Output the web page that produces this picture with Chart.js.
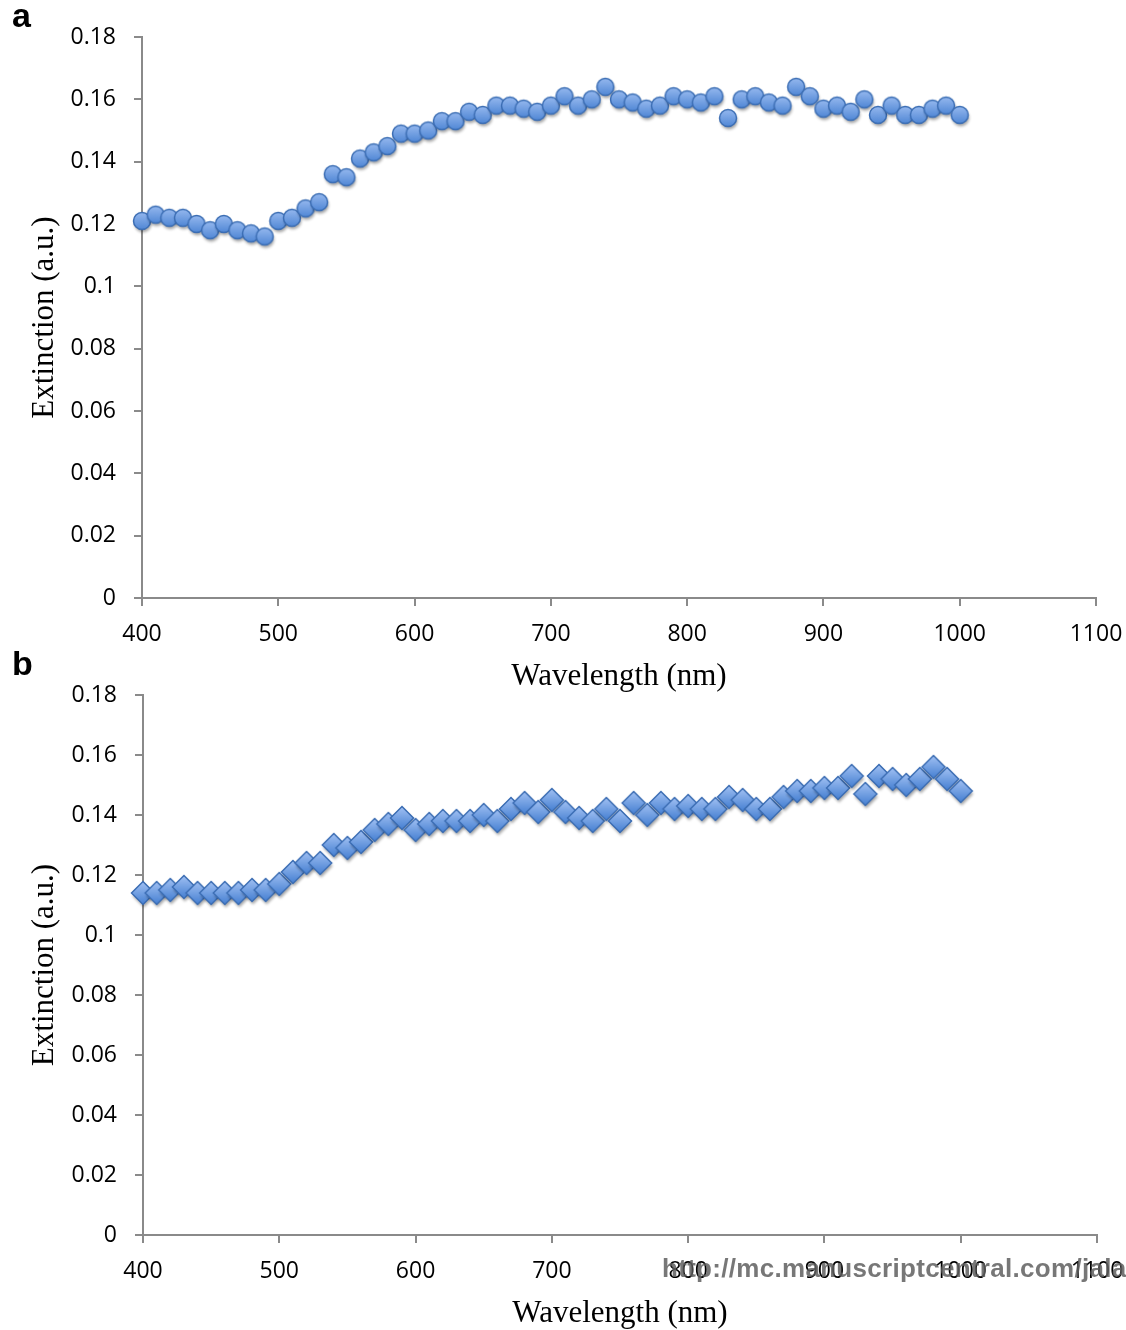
<!DOCTYPE html>
<html>
<head>
<meta charset="utf-8">
<script src="https://cdn.jsdelivr.net/npm/chart.js@4/dist/chart.umd.min.js"></script>
<style>
  body { margin: 0; background: #fff; }
  #page { position: relative; width: 1126px; height: 1330px; overflow: hidden; background: #fff; }
  .box { position: absolute; left: 0; width: 1126px; }
  .panel { position: absolute; font: bold 34px "Liberation Sans", Arial, sans-serif; line-height: 34px; color: #000; }
  #mark { position: absolute; left: 662px; top: 1255px; font: bold 26px "Liberation Sans", Arial, sans-serif;
          line-height: 26px; letter-spacing: 0.3px; color: rgba(95, 95, 95, 0.85); white-space: nowrap; }
</style>
</head>
<body>
<div id="page">
  <div class="box" style="top:0px;height:695px"><canvas id="chartA"></canvas></div>
  <div class="box" style="top:640px;height:692px"><canvas id="chartB"></canvas></div>
  <div class="panel" style="left:12px;top:-2px">a</div>
  <div class="panel" style="left:12px;top:646px">b</div>
  <div id="mark">http://mc.manuscriptcentral.com/jala</div>
</div>
<script>
// wavelengths (nm), same for both panels
var wavelength = [400, 410, 420, 430, 440, 450, 460, 470, 480, 490,
                  500, 510, 520, 530, 540, 550, 560, 570, 580, 590,
                  600, 610, 620, 630, 640, 650, 660, 670, 680, 690,
                  700, 710, 720, 730, 740, 750, 760, 770, 780, 790,
                  800, 810, 820, 830, 840, 850, 860, 870, 880, 890,
                  900, 910, 920, 930, 940, 950, 960, 970, 980, 990, 1000];

// panel a - extinction (a.u.)
var extinctionA = [0.121, 0.123, 0.122, 0.122, 0.120, 0.118, 0.120, 0.118, 0.117, 0.116,
                   0.121, 0.122, 0.125, 0.127, 0.136, 0.135, 0.141, 0.143, 0.145, 0.149,
                   0.149, 0.150, 0.153, 0.153, 0.156, 0.155, 0.158, 0.158, 0.157, 0.156,
                   0.158, 0.161, 0.158, 0.160, 0.164, 0.160, 0.159, 0.157, 0.158, 0.161,
                   0.160, 0.159, 0.161, 0.154, 0.160, 0.161, 0.159, 0.158, 0.164, 0.161,
                   0.157, 0.158, 0.156, 0.160, 0.155, 0.158, 0.155, 0.155, 0.157, 0.158, 0.155];

// panel b - extinction (a.u.)
var extinctionB = [0.114, 0.114, 0.115, 0.116, 0.114, 0.114, 0.114, 0.114, 0.115, 0.115,
                   0.117, 0.121, 0.124, 0.124, 0.130, 0.129, 0.131, 0.135, 0.137, 0.139,
                   0.135, 0.137, 0.138, 0.138, 0.138, 0.140, 0.138, 0.142, 0.144, 0.141,
                   0.145, 0.141, 0.139, 0.138, 0.142, 0.138, 0.144, 0.140, 0.144, 0.142,
                   0.143, 0.142, 0.142, 0.146, 0.145, 0.142, 0.142, 0.146, 0.148, 0.148,
                   0.149, 0.149, 0.153, 0.147, 0.153, 0.152, 0.150, 0.152, 0.156, 0.152, 0.148];

var xTicks = [400, 500, 600, 700, 800, 900, 1000, 1100];
var yTicks = [0, 0.02, 0.04, 0.06, 0.08, 0.1, 0.12, 0.14, 0.16, 0.18];

// marker images (Excel-like shaded markers)
function marker(kind) {
    var c = document.createElement("canvas");
    c.width = 34; c.height = 34;
    var g = c.getContext("2d");
    g.beginPath();
    if (kind === "circle") {
        g.arc(17, 17, 8.5, 0, Math.PI * 2);
    } else {
        g.moveTo(17, 5.5); g.lineTo(28.5, 17); g.lineTo(17, 28.5); g.lineTo(5.5, 17); g.closePath();
    }
    var grad = g.createLinearGradient(0, 6, 0, 28);
    grad.addColorStop(0, "#9fbff2");
    grad.addColorStop(1, "#4680d2");
    g.shadowColor = "rgba(0,0,0,0.35)";
    g.shadowBlur = 3;
    g.shadowOffsetX = 1;
    g.shadowOffsetY = 3;
    g.fillStyle = grad;
    g.fill();
    g.shadowColor = "transparent";
    g.lineWidth = 1.5;
    g.strokeStyle = "#3b6db3";
    g.stroke();
    return c;
}

var axisGray = "#8a8a8a";
var tickFont = { family: "'Open Sans', sans-serif", size: 23 };
var titleFont = { family: "'Liberation Serif', 'Times New Roman', serif", size: 31 };

function makeChart(id, values, style, opts) {
    var pts = wavelength.map(function (w, i) { return { x: w, y: values[i] }; });
    return new Chart(document.getElementById(id), {
        type: "scatter",
        data: {
            datasets: [{
                data: pts,
                pointStyle: style,
                pointRadius: 9,
                showLine: false,
                clip: false,
            }],
        },
        options: {
            responsive: true,
            maintainAspectRatio: false,
            animation: false,
            layout: { autoPadding: false, padding: { top: opts.top, right: opts.right, left: 0, bottom: 0 } },
            plugins: { legend: { display: false }, tooltip: { enabled: false } },
            scales: {
                x: {
                    type: "linear",
                    min: 400,
                    max: 1100,
                    afterBuildTicks: function (s) { s.ticks = xTicks.map(function (v) { return { value: v }; }); },
                    afterFit: function (s) { s.height = opts.xh; s.paddingLeft = 0; s.paddingRight = 0; },
                    ticks: {
                        color: "#000", font: tickFont, padding: 15, maxRotation: 0,
                        callback: function (v) { return String(v); },
                    },
                    grid: { drawOnChartArea: false, drawTicks: true, tickLength: 8, color: axisGray, lineWidth: 2 },
                    border: { display: true, color: axisGray, width: 2 },
                    title: { display: true, text: "Wavelength (nm)", color: "#000", font: titleFont, padding: { top: 0, bottom: 0 } },
                },
                y: {
                    min: 0,
                    max: 0.18,
                    afterBuildTicks: function (s) { s.ticks = yTicks.map(function (v) { return { value: v }; }); },
                    afterFit: function (s) { s.width = opts.yw; },
                    ticks: {
                        color: "#000", font: tickFont, padding: 18,
                        callback: function (v) { return String(+v.toFixed(2)); },
                    },
                    grid: { drawOnChartArea: false, drawTicks: true, tickLength: 8, color: axisGray, lineWidth: 2 },
                    border: { display: true, color: axisGray, width: 2 },
                    title: { display: true, text: "Extinction (a.u.)", color: "#000", font: titleFont, padding: { top: 26, bottom: 0 } },
                },
            },
        },
    });
}

makeChart("chartA", extinctionA, marker("circle"), { top: 37, right: 30, yw: 142, xh: 97 });
makeChart("chartB", extinctionB, marker("diamond"), { top: 55, right: 29, yw: 143, xh: 97 });
</script>
</body>
</html>
